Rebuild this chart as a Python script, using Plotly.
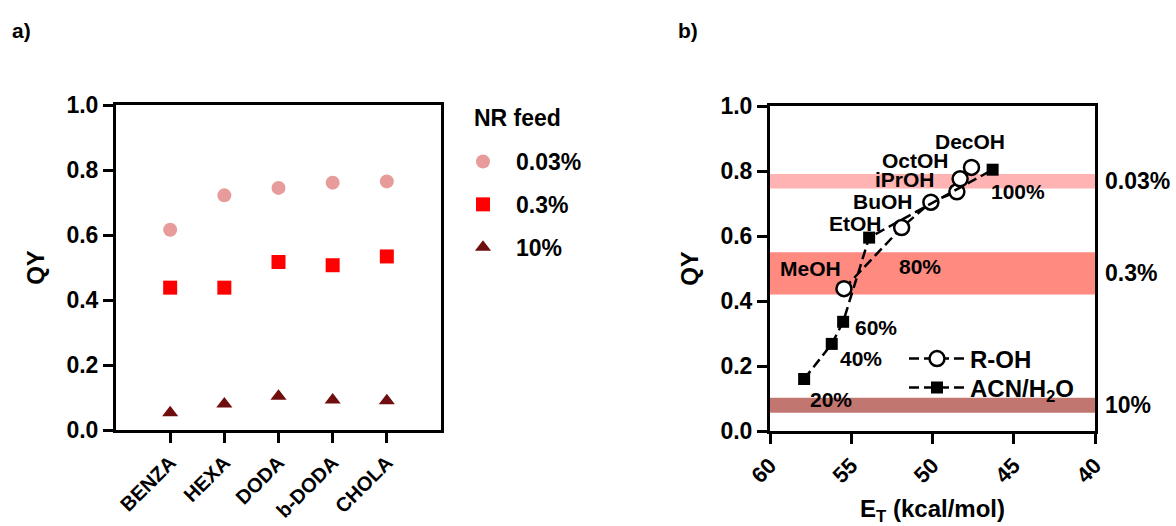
import plotly.graph_objects as go

# ---------------- data ----------------
ligands = ["BENZA", "HEXA", "DODA", "b-DODA", "CHOLA"]
feed_labels = ["0.03%", "0.3%", "10%"]
qy_003 = [0.616, 0.722, 0.745, 0.761, 0.765]
qy_03 = [0.438, 0.438, 0.517, 0.507, 0.534]
qy_10 = [0.053, 0.080, 0.104, 0.092, 0.090]

roh_names = ["MeOH", "EtOH", "BuOH", "iPrOH", "OctOH", "DecOH"]
roh_et = [55.45, 51.9, 50.1, 48.5, 48.3, 47.6]
roh_qy = [0.438, 0.626, 0.704, 0.736, 0.776, 0.811]

acn_names = ["20%", "40%", "60%", "80%", "100%"]
acn_et = [57.9, 56.2, 55.5, 53.9, 46.3]
acn_qy = [0.160, 0.268, 0.336, 0.595, 0.804]

band_names = ["0.03%", "0.3%", "10%"]
band_low = [0.746, 0.420, 0.056]
band_high = [0.791, 0.550, 0.102]

# ---------------- style ----------------
FONT = "Liberation Sans, Arial, sans-serif"
feed_colors = ["#E89B9B", "#FF0000", "#6E0E0E"]
feed_symbols = ["circle", "square", "triangle-up"]
band_colors = ["#FFB3B3", "#FF8A80", "#C27670"]
roh_offsets = [(-33, 20), (-46, 4), (-48, 1), (-52, 12), (-45, 18), (-2, 26)]
acn_offsets = [(27, -20), (29, -15), (33, -6), (51, -29), (25, -22)]
DASH = "10px,5px"

W, H = 1176, 526


def px_x(p):
    return p / W


def px_y(p):
    return 1 - p / H


def bold(size):
    return dict(family=FONT, size=size, color="black", weight="bold")


fig = go.Figure()

# Panel a
for vals, name, col, sym in zip([qy_003, qy_03, qy_10], feed_labels, feed_colors, feed_symbols):
    fig.add_trace(go.Scatter(
        x=ligands, y=vals, mode="markers", name=name, legendgroup=name,
        marker=dict(color=col, symbol=sym, size=14, line=dict(width=0)),
        xaxis="x", yaxis="y", legend="legend"))

# Panel b
fig.add_trace(go.Scatter(
    x=roh_et, y=roh_qy, mode="lines+markers", name="R-OH",
    line=dict(color="black", width=2.5, dash=DASH),
    marker=dict(symbol="circle", size=15, color="white", line=dict(width=2.5, color="black")),
    xaxis="x2", yaxis="y2", legend="legend2"))
fig.add_trace(go.Scatter(
    x=acn_et, y=acn_qy, mode="lines+markers", name="ACN/H<sub>2</sub>O",
    line=dict(color="black", width=2.5, dash=DASH),
    marker=dict(symbol="square", size=12, color="black"),
    xaxis="x2", yaxis="y2", legend="legend3"))

shapes = []
annotations = []
for lo, hi, col, name in zip(band_low, band_high, band_colors, band_names):
    shapes.append(dict(type="rect", xref="x2 domain", yref="y2", x0=0, x1=1, y0=lo, y1=hi,
                       fillcolor=col, line=dict(width=0), layer="below"))
    annotations.append(dict(xref="x2 domain", yref="y2", x=1, y=(lo + hi) / 2, xanchor="left",
                            xshift=8, text=name, showarrow=False, font=bold(23)))

for name, xv, yv, (dx, dy) in zip(roh_names, roh_et, roh_qy, roh_offsets):
    annotations.append(dict(xref="x2", yref="y2", x=xv, y=yv, xshift=dx, yshift=dy, text=name,
                            showarrow=False, font=bold(21)))
for name, xv, yv, (dx, dy) in zip(acn_names, acn_et, acn_qy, acn_offsets):
    annotations.append(dict(xref="x2", yref="y2", x=xv, y=yv, xshift=dx, yshift=dy, text=name,
                            showarrow=False, font=bold(21)))

annotations.append(dict(xref="paper", yref="paper", x=px_x(10), y=px_y(30), xanchor="left", yanchor="middle",
                        text="a)", showarrow=False, font=bold(21)))
annotations.append(dict(xref="paper", yref="paper", x=px_x(676), y=px_y(30), xanchor="left", yanchor="middle",
                        text="b)", showarrow=False, font=bold(21)))
annotations.append(dict(xref="paper", yref="paper", x=px_x(472), y=px_y(118), xanchor="left", yanchor="middle",
                        text="NR feed", showarrow=False, font=bold(23)))

axis_common = dict(showline=True, linecolor="black", linewidth=3, mirror=True,
                   ticks="outside", ticklen=10, tickwidth=3, tickcolor="black",
                   showgrid=False, zeroline=False, automargin=False)

fig.update_layout(
    template="none",
    width=W, height=H,
    margin=dict(l=0, r=0, t=0, b=0, autoexpand=False),
    paper_bgcolor="white", plot_bgcolor="white",
    font=dict(family=FONT, color="black"),
    xaxis=dict(domain=[px_x(116), px_x(441)], anchor="y", type="category",
               categoryorder="array", categoryarray=ligands, range=[-1, 5], tickangle=-45,
               tickfont=bold(20), **axis_common),
    yaxis=dict(domain=[px_y(430), px_y(105)], anchor="x", range=[0, 1], dtick=0.2, tickformat=".1f",
               title=dict(text="QY", font=bold(24), standoff=16), tickfont=bold(23),
               **axis_common),
    xaxis2=dict(domain=[px_x(770), px_x(1095)], anchor="y2", range=[60, 40], dtick=5, tickangle=-45,
                title=dict(text="E<sub>T</sub> (kcal/mol)", font=bold(24), standoff=16), tickfont=bold(22),
                **axis_common),
    yaxis2=dict(domain=[px_y(431), px_y(106)], anchor="x2", range=[0, 1], dtick=0.2, tickformat=".1f",
                title=dict(text="QY", font=bold(24), standoff=16), tickfont=bold(23),
                **axis_common),
    legend=dict(x=px_x(450), y=px_y(140), xanchor="left", yanchor="top",
                bgcolor="rgba(0,0,0,0)", tracegroupgap=10, itemwidth=56,
                font=bold(23)),
    legend2=dict(x=px_x(904), y=px_y(359), xanchor="left", yanchor="middle",
                 bgcolor="rgba(0,0,0,0)", itemwidth=56,
                 font=bold(24)),
    legend3=dict(x=px_x(904), y=px_y(388), xanchor="left", yanchor="middle",
                 bgcolor="rgba(0,0,0,0)", itemwidth=56,
                 font=bold(24)),
    shapes=shapes,
    annotations=annotations,
    showlegend=True,
)

fig.write_html("out.html")
